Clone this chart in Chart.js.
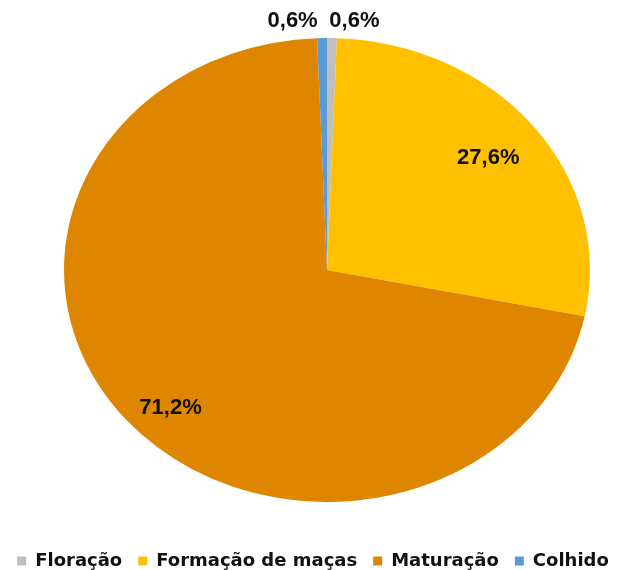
<!DOCTYPE html>
<html>
<head>
<meta charset="utf-8">
<script src="https://cdn.jsdelivr.net/npm/chart.js@4/dist/chart.umd.min.js"></script>
<style>
  html, body { margin: 0; padding: 0; background: #fff; overflow: hidden; }
  #wrap { width: 626px; height: 570px; position: relative; }
</style>
</head>
<body>
<div id="wrap"><canvas id="c" width="626" height="570"></canvas></div>
<script>
const categories = ['Floração', 'Formação de maças', 'Maturação', 'Colhido'];
const shares = [0.6, 27.6, 71.2, 0.6];
const sliceColors = ['#BFBFBF', '#FFC000', '#DF8600', '#5B9BD5'];

// ellipse geometry of the reference pie
const PIE = { cx: 327, cy: 270, rx: 263, ry: 232 };
const labelPlace = [
  { f: 1.073, align: 'left',   dx: -3, dy: 0 },
  { f: 0.78,  align: 'center', dx: 0,  dy: 0 },
  { f: 0.84,  align: 'center', dx: 12, dy: 12 },
  { f: 1.073, align: 'right',  dx: -4, dy: 0 }
];

const ellipsePlugin = {
  id: 'ellipsePie',
  beforeDatasetsDraw(chart) {
    const arc = chart.getDatasetMeta(0).data[0];
    const r = arc.outerRadius;
    const ctx = chart.ctx;
    ctx.save();
    ctx.translate(PIE.cx, PIE.cy);
    ctx.scale(PIE.rx / r, PIE.ry / r);
    ctx.translate(-arc.x, -arc.y);
  },
  afterDatasetsDraw(chart) {
    const ctx = chart.ctx;
    ctx.restore();
    const meta = chart.getDatasetMeta(0);
    const data = chart.data.datasets[0].data;
    const total = data.reduce((a, b) => a + b, 0);
    ctx.save();
    ctx.font = "bold 22px 'Liberation Sans', Arial, sans-serif";
    ctx.fillStyle = '#111';
    ctx.textBaseline = 'middle';
    meta.data.forEach((el, i) => {
      const mid = (el.startAngle + el.endAngle) / 2;
      const p = labelPlace[i];
      const X = PIE.cx + Math.cos(mid) * p.f * PIE.rx + p.dx;
      const Y = PIE.cy + Math.sin(mid) * p.f * PIE.ry + p.dy;
      const txt = (data[i] / total * 100).toFixed(1).replace('.', ',') + '%';
      ctx.textAlign = p.align;
      ctx.fillText(txt, X, Y);
    });
    ctx.restore();
  }
};

new Chart(document.getElementById('c'), {
  type: 'pie',
  data: {
    labels: categories,
    datasets: [{
      data: shares,
      backgroundColor: sliceColors,
      borderWidth: 0,
      hoverOffset: 0
    }]
  },
  options: {
    responsive: false,
    animation: false,
    layout: { padding: { top: 0, bottom: -10, left: 0, right: 0 } },
    plugins: {
      tooltip: { enabled: false },
      legend: {
        position: 'bottom',
        labels: {
          boxWidth: 9,
          boxHeight: 9,
          padding: 16,
          color: '#111',
          font: { family: "'DejaVu Sans', sans-serif", size: 18, weight: 'bold' }
        }
      }
    }
  },
  plugins: [ellipsePlugin]
});
</script>
</body>
</html>
